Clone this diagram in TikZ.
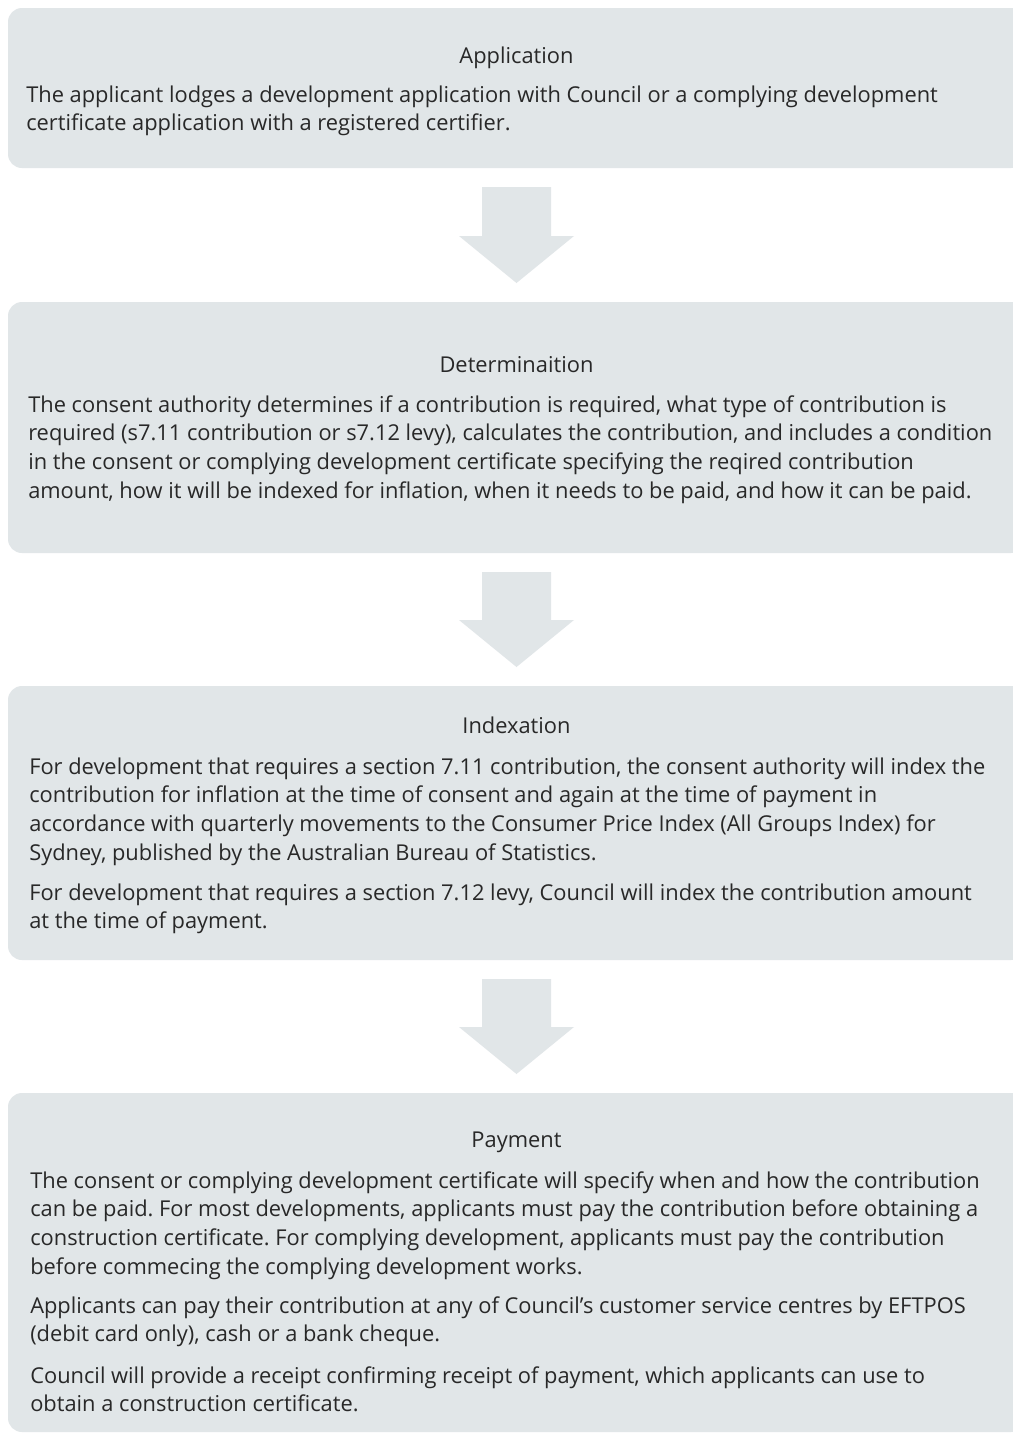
\documentclass[tikz,border=0pt]{standalone}
\usepackage{fontspec}
\setmainfont{Open Sans}
\usetikzlibrary{calc}
\definecolor{boxgray}{RGB}{225,230,232}
\definecolor{txt}{RGB}{40,40,40}
\frenchspacing
\newlength\reflen
\settowidth\reflen{\fontsize{10pt}{12pt}\selectfont For development that requires a section 7.11 contribution, the consent authority will index the}
\newcommand\para[1]{\begin{tabular}[t]{@{}l@{}}#1\end{tabular}}
\begin{document}
\pgfmathsetmacro\fsz{10*717/\reflen}
\begin{tikzpicture}[x=0.75pt,y=-0.75pt,
  box/.style={rectangle, rounded corners=10.5pt, fill=boxgray, draw=none, inner sep=0pt, outer sep=0pt, minimum width=762.75pt, anchor=north west},
  flow/.style={fill=boxgray, draw=none},
  ttl/.style={anchor=base, inner sep=0pt, text=txt, font=\fontsize{\fsz pt}{21.5pt}\selectfont},
  txtb/.style={anchor=base west, inner sep=0pt, text=txt, font=\fontsize{\fsz pt}{21.5pt}\selectfont\frenchspacing}
]
\clip (0,0) rectangle (1013,1439);
\fill[white] (0,0) rectangle (1013,1439);
% boxes
\node[box, minimum height=120pt] (b1) at (8,8) {};
\node[box, minimum height=188.25pt] (b2) at (8,302) {};
\node[box, minimum height=205.5pt] (b3) at (8,686) {};
\node[box, minimum height=254.25pt] (b4) at (8,1093) {};
% arrows
\foreach \a/\b in {b1/b2, b2/b3, b3/b4}{
  \path[flow] ($(\a.south)+(-34.5,19)$) -- ($(\a.south)+(34.5,19)$)
    -- ($(\b.north)+(34.5,-66)$) -- ($(\b.north)+(57.5,-66)$)
    -- ($(\b.north)+(0,-19)$) -- ($(\b.north)+(-57.5,-66)$)
    -- ($(\b.north)+(-34.5,-66)$) -- cycle;
}
% box 1
\node[ttl] (t1) at (516.5,63) {Application};
\node[txtb] (p1) at (26,102) {\para{The applicant lodges a development application with Council or a complying development\\
certificate application with a registered certifier.}};
% box 2
\node[ttl] (t2) at (516.5,372) {Determinaition};
\node[txtb] (p2) at (28,412) {\para{The consent authority determines if a contribution is required, what type of contribution is\\
required (s7.11 contribution or s7.12 levy), calculates the contribution, and includes a condition\\
in the consent or complying development certificate specifying the reqired contribution\\
amount, how it will be indexed for inflation, when it needs to be paid, and how it can be paid.}};
% box 3
\node[ttl] (t3) at (516.5,733) {Indexation};
\node[txtb] (p3a) at (29,774) {\para{For development that requires a section 7.11 contribution, the consent authority will index the\\
contribution for inflation at the time of consent and again at the time of payment in\\
accordance with quarterly movements to the Consumer Price Index (All Groups Index) for\\
Sydney, published by the Australian Bureau of Statistics.}};
\node[txtb] (p3b) at (29,900) {\para{For development that requires a section 7.12 levy, Council will index the contribution amount\\
at the time of payment.}};
% box 4
\node[ttl] (t4) at (516.5,1147) {Payment};
\node[txtb] (p4a) at (30,1188) {\para{The consent or complying development certificate will specify when and how the contribution\\
can be paid. For most developments, applicants must pay the contribution before obtaining a\\
construction certificate. For complying development, applicants must pay the contribution\\
before commecing the complying development works.}};
\node[txtb] (p4b) at (30,1313) {\para{Applicants can pay their contribution at any of Council’s customer service centres by EFTPOS\\
(debit card only), cash or a bank cheque.}};
\node[txtb] (p4c) at (30,1383) {\para{Council will provide a receipt confirming receipt of payment, which applicants can use to\\
obtain a construction certificate.}};
\end{tikzpicture}
\end{document}
